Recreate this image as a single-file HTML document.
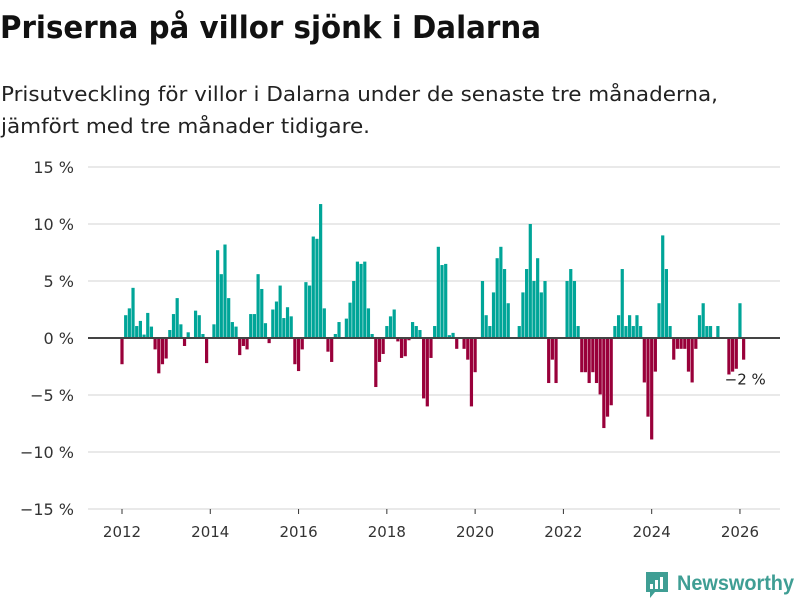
<!DOCTYPE html>
<html><head><meta charset="utf-8"><style>
body{margin:0;background:#fff;font-family:"Liberation Sans","DejaVu Sans",sans-serif;}
#wrap{position:relative;width:800px;height:600px;overflow:hidden;}
svg{position:absolute;left:0;top:0;}
</style></head><body>
<div id="wrap">
<svg width="800" height="600" style="position:absolute;left:0;top:0">
<text x="0" y="38" font-size="31" font-weight="bold" fill="#111" font-family="DejaVu Sans, sans-serif" textLength="541" lengthAdjust="spacingAndGlyphs">Priserna på villor sjönk i Dalarna</text>
<text x="1" y="101" font-size="20" fill="#222" font-family="DejaVu Sans, sans-serif" textLength="717" lengthAdjust="spacingAndGlyphs">Prisutveckling för villor i Dalarna under de senaste tre månaderna,</text>
<text x="1" y="133" font-size="20" fill="#222" font-family="DejaVu Sans, sans-serif" textLength="369" lengthAdjust="spacingAndGlyphs">jämfört med tre månader tidigare.</text>
</svg>
<svg id="chart" width="800" height="600"></svg>
</div>
<script>
const startYear = 2012;
const values = [-2.3,2.0,2.6,4.4,1.05,1.5,0.3,2.2,1.0,-1.0,-3.1,-2.3,-1.8,0.7,2.1,3.5,1.2,-0.7,0.5,0,2.4,2.0,0.35,-2.2,0,1.2,7.7,5.6,8.2,3.5,1.4,1.0,-1.5,-0.7,-1.0,2.1,2.1,5.6,4.3,1.3,-0.45,2.5,3.2,4.6,
1.75,2.7,1.9,-2.3,-2.9,-1.0,4.9,4.6,8.9,8.7,11.75,2.6,-1.2,-2.1,0.35,1.4,0,1.7,3.1,5.0,6.7,6.5,6.7,2.6,0.35,-4.3,-2.1,-1.4,1.05,1.9,2.5,-0.3,-1.75,-1.6,-0.2,1.4,1.05,0.7,-5.3,-6.0,-1.75,1.05,8.0,
6.4,6.5,0.25,0.45,-0.95,0,-0.95,-1.9,-6.0,-3.0,0,5.0,2.0,1.05,4.0,7.0,8.0,6.05,3.05,0,0,1.05,4.0,6.05,10.0,5.0,7.0,4.0,5.0,-3.95,-1.9,-3.95,0,0,5.0,6.05,5.0,1.05,-3.0,-3.0,-3.95,-3.0,-3.95,
-4.95,-7.9,-6.9,-5.9,1.05,2.0,6.05,1.05,2.0,1.05,2.0,1.05,-3.9,-6.9,-8.9,-2.95,3.05,9.0,6.05,1.05,-1.9,-0.95,-0.95,-0.95,-2.95,-3.9,-0.95,2.0,3.05,1.05,1.05,0,1.05,0,0,-3.2,-2.95,-2.7,3.05,-1.9];
const yTicks = [15,10,5,0,-5,-10,-15];
const yTickLabels = ["15 %","10 %","5 %","0 %","\u22125 %","\u221210 %","\u221215 %"];
const xTicks = [2012,2014,2016,2018,2020,2022,2024,2026];
const lastLabel = "\u22122 %";

const NS="http://www.w3.org/2000/svg";
const svg=document.getElementById('chart');
const y=v=>338-v*11.4;
const x=t=>122+(t-2012)*44.14;
function mk(tag,attrs){const e=document.createElementNS(NS,tag);for(const k in attrs)e.setAttribute(k,attrs[k]);svg.appendChild(e);return e;}
yTicks.forEach((t,i)=>{
  if(t!==0){const g=mk('line',{x1:88,x2:780,y1:y(t),y2:y(t),stroke:'#e2e2e2','stroke-width':1.5});
  
  }
  const l=mk('text',{x:74,y:y(t)+6,'text-anchor':'end','font-size':16,fill:'#333','font-family':'DejaVu Sans, sans-serif'});
  l.textContent=yTickLabels[i];
  
  
});
xTicks.forEach(t=>{
  const tk=mk('line',{x1:x(t),x2:x(t),y1:509,y2:514,stroke:'#333','stroke-width':1});
  
  
  const l=mk('text',{x:x(t),y:537,'text-anchor':'middle','font-size':15,fill:'#333','font-family':'DejaVu Sans, sans-serif'});
  l.textContent=t;
  
  
});
values.forEach((v,i)=>{
  const cx=x(startYear+i/12);
  const b=mk('rect',{x:cx-1.6,width:3.2,y:Math.min(y(v),y(0)),height:Math.abs(y(v)-y(0)),fill:v>=0?'#00a598':'#99003a'});
  
  
});
const z=mk('line',{x1:88,x2:780,y1:y(0),y2:y(0),stroke:'#444','stroke-width':2});


const lastX=x(startYear+(values.length-1)/12);
const lb=mk('text',{x:lastX-19,y:y(values[values.length-1])+25,'font-size':15,fill:'#222','font-family':'DejaVu Sans, sans-serif'});
lb.textContent=lastLabel;


const lg=mk('g',{});


const p=document.createElementNS(NS,'path');
p.setAttribute('d','M646 572 h22 v20 h-13 l-5 6 v-6 h-4 z');p.setAttribute('fill','#3f9e94');lg.appendChild(p);
[[650,584,3,5],[655,580,3,9],[660,577,3,12]].forEach(r=>{const q=document.createElementNS(NS,'rect');q.setAttribute('x',r[0]);q.setAttribute('y',r[1]);q.setAttribute('width',r[2]);q.setAttribute('height',r[3]);q.setAttribute('fill','#fff');lg.appendChild(q);});
const t=document.createElementNS(NS,'text');t.setAttribute('x',677);t.setAttribute('y',590);t.setAttribute('font-size',21);t.setAttribute('font-weight','bold');t.setAttribute('fill','#3f9e94');t.setAttribute('font-family','Liberation Sans, sans-serif');t.setAttribute('textLength','117');t.setAttribute('lengthAdjust','spacingAndGlyphs');t.textContent='Newsworthy';lg.appendChild(t);
</script>
</body></html>
